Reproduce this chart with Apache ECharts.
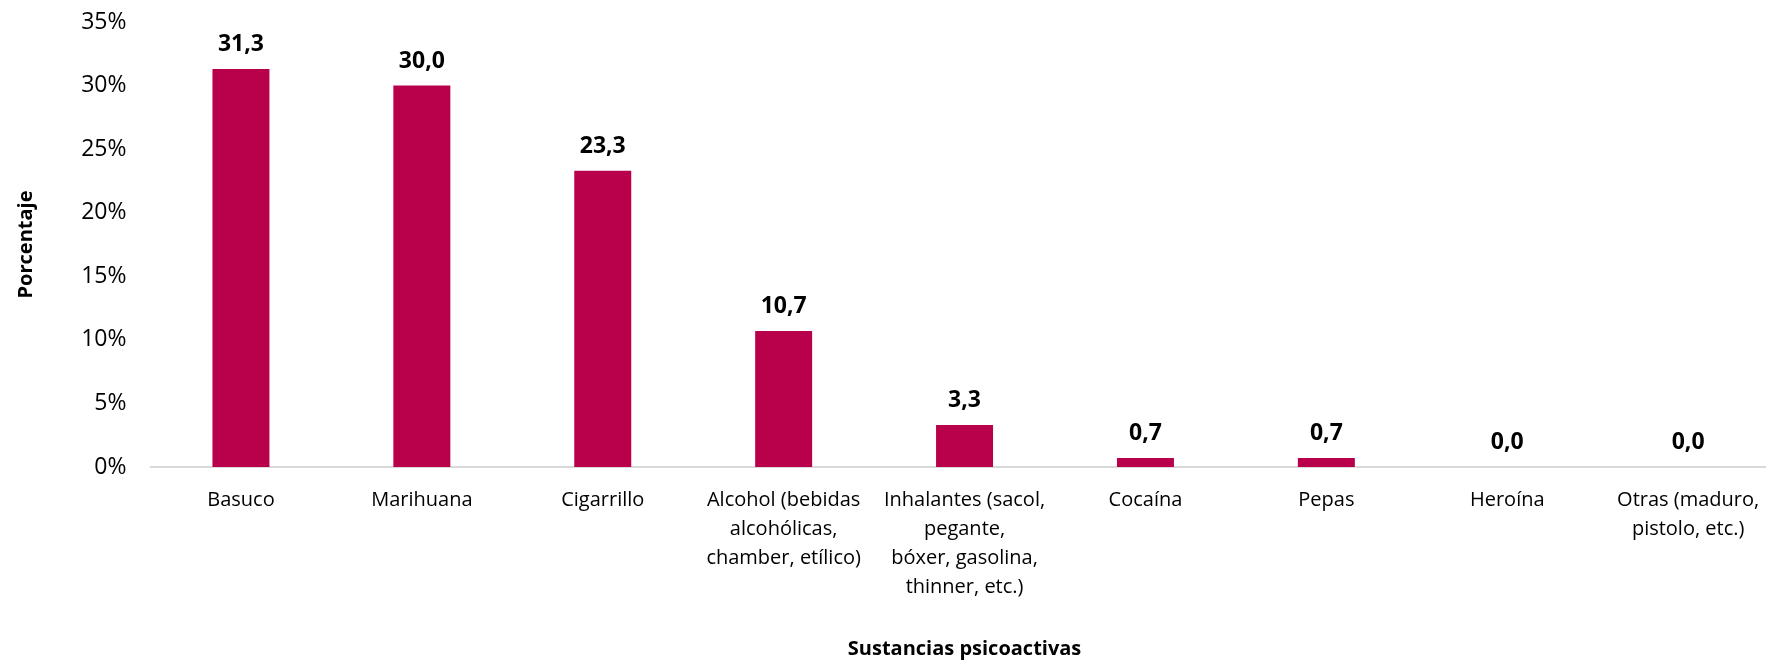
<!DOCTYPE html>
<html>
<head>
<meta charset="utf-8">
<script src="https://cdn.jsdelivr.net/npm/echarts@6/dist/echarts.min.js"></script>
<style>html,body{margin:0;padding:0;background:#fff}#c{width:1766px;height:661px}</style>
</head>
<body>
<div id="c"></div>
<script>
const categories = ["Basuco", "Marihuana", "Cigarrillo", "Alcohol (bebidas alcohólicas, chamber, etílico)", "Inhalantes (sacol, pegante, bóxer, gasolina, thinner, etc.)", "Cocaína", "Pepas", "Heroína", "Otras (maduro, pistolo, etc.)"];
const xTickLabels = ["Basuco", "Marihuana", "Cigarrillo", "Alcohol (bebidas\nalcohólicas,\nchamber, etílico)", "Inhalantes (sacol,\npegante,\nbóxer, gasolina,\nthinner, etc.)", "Cocaína", "Pepas", "Heroína", "Otras (maduro,\npistolo, etc.)"];
const values = [31.3, 30.0, 23.3, 10.7, 3.3, 0.7, 0.7, 0.0, 0.0];
const yTicks = [0, 5, 10, 15, 20, 25, 30, 35];
const yAxisTitle = "Porcentaje";
const xAxisTitle = "Sustancias psicoactivas";

const FONT = "'Open Sans', 'Noto Sans', sans-serif";
const chart = echarts.init(document.getElementById('c'), null, {renderer: 'canvas'});
chart.setOption({
  animation: false,
  backgroundColor: '#fff',
  grid: {left: 150.5, right: -12.6, top: 22, bottom: 194, containLabel: false, outerBoundsMode: 'none'},
  xAxis: {
    type: 'category',
    data: categories,
    name: xAxisTitle,
    nameLocation: 'middle',
    nameGap: 172,
    nameTextStyle: {fontFamily: FONT, fontSize: 20, fontWeight: 'bold', color: '#000'},
    axisLine: {lineStyle: {color: '#d9d9d9', width: 2}},
    axisTick: {show: false},
    axisLabel: {
      interval: 0,
      margin: 19,
      fontFamily: FONT, fontSize: 20, color: '#000', lineHeight: 29,
      formatter: (v, i) => xTickLabels[categories.indexOf(v)]
    }
  },
  yAxis: {
    type: 'value',
    min: yTicks[0], max: yTicks[yTicks.length - 1], interval: 5,
    name: yAxisTitle,
    nameLocation: 'middle',
    nameGap: 114,
    nameRotate: 90,
    nameTextStyle: {fontFamily: FONT, fontSize: 20, fontWeight: 'bold', color: '#000'},
    axisLine: {show: false},
    axisTick: {show: false},
    splitLine: {show: false},
    axisLabel: {margin: 24, fontFamily: FONT, fontSize: 23, color: '#000', formatter: '{value}%'}
  },
  series: [{
    type: 'bar',
    data: values,
    barWidth: '31.5%',
    itemStyle: {color: '#b8004b'},
    label: {
      show: true, position: 'top', distance: 13,
      fontFamily: FONT, fontSize: 23, fontWeight: 'bold', color: '#000',
      formatter: p => p.value.toFixed(1).replace('.', ',')
    }
  }]
});
</script>
</body>
</html>
